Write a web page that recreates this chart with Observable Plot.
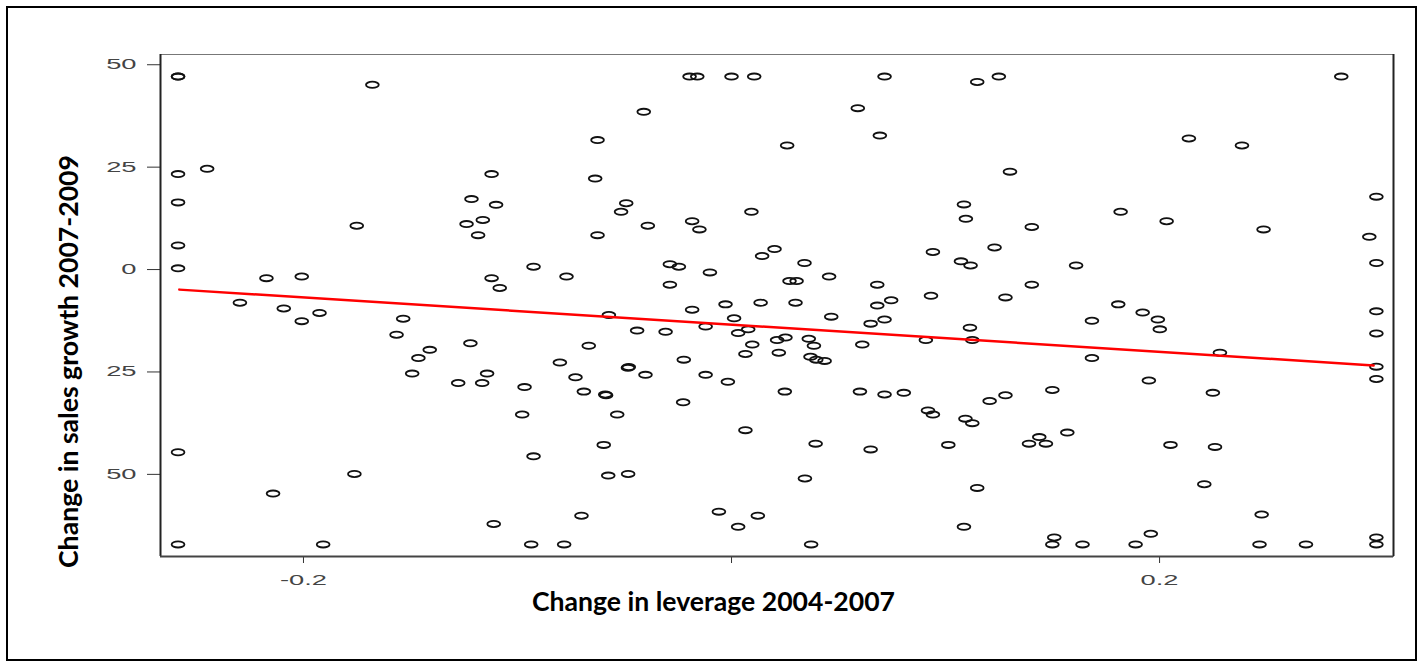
<!DOCTYPE html>
<html><head><meta charset="utf-8">
<script src="https://cdn.jsdelivr.net/npm/d3@7"></script>
<script src="https://cdn.jsdelivr.net/npm/@observablehq/plot@0.6"></script>
<style>
html,body{margin:0;padding:0;background:#fff;width:1421px;height:667px;overflow:hidden;position:relative}
#chart{position:absolute;left:0;top:0}
#border{position:absolute;left:6px;top:6px;width:1411px;height:655px;border:2px solid #000;box-sizing:border-box;pointer-events:none}
</style></head><body>
<div id="chart"></div><div id="border"></div>
<script>
// Change in leverage 2004-2007 (x) and change in sales growth 2007-2009 (y)
const leverage = [
  -0.2586,-0.2586,-0.1678,-0.2586,-0.2450,-0.2586,-0.2586,-0.2586,-0.1751,-0.1238,
  -0.1215,-0.2173,-0.2008,-0.2297,-0.2092,-0.2008,-0.1925,-0.1534,-0.1565,-0.1410,
  -0.1463,-0.1492,-0.1277,-0.1220,-0.2586,-0.1762,-0.2142,-0.2586,-0.1908,
  -0.0196,-0.0160,0.0000,0.0106,-0.0410,-0.0626,-0.1121,-0.0637,-0.1100,-0.0492,
  -0.0516,0.0093,-0.1162,-0.1184,-0.0391,-0.0184,-0.0150,-0.0626,0.0143,-0.0925,
  -0.0771,-0.1121,-0.1083,-0.0288,-0.0246,-0.0101,-0.0288,-0.0028,0.0136,-0.0184,
  -0.0573,0.0012,-0.0121,-0.0441,-0.0308,0.0031,0.0078,-0.0667,0.0097,0.0065,
  -0.0802,-0.0484,-0.0480,-0.0223,-0.1142,-0.1165,-0.0729,-0.0402,-0.0121,-0.0017,
  -0.0967,-0.0690,-0.0586,-0.0590,-0.0226,-0.0978,-0.0534,0.0065,-0.0597,-0.0925,
  -0.0576,-0.0483,-0.0701,-0.1111,-0.0059,0.0031,0.0123,-0.0936,-0.0782,
  0.0715,0.1148,0.1249,0.0590,0.0693,0.0260,0.1301,0.1086,0.1095,0.1403,
  0.0201,0.0941,0.1229,0.0341,0.1072,0.1117,0.1610,0.0271,0.0304,0.0456,
  0.0681,0.1403,0.0299,0.0681,0.0746,0.0932,0.1280,0.0466,0.0650,0.0715,
  0.1114,0.0908,0.1125,0.0213,0.0252,0.0361,0.0385,0.0221,0.0369,0.0396,
  0.0435,0.0611,0.0249,0.0600,0.0715,0.0805,0.0918,0.0941,0.1093,0.1125,
  0.1206,0.1280,0.1499,0.0393,0.0650,0.1013,0.1390,0.1438,0.1469,0.1569,
  0.0343,0.1148,0.1086,0.0372,0.1499,0.1508,0.1640,
  0.2849,0.2137,0.2385,0.3013,0.1818,0.2033,0.2486,0.2980,0.3013,0.1807,
  0.1921,0.1992,0.2001,0.1684,0.3013,0.3013,0.2282,0.3013,0.3013,0.1684,
  0.1950,0.2249,0.2051,0.2259,0.2209,0.2477,0.1959,0.1888,0.2467,0.2684,
  0.3013,0.3013
];
const salesGrowth = [
  47.1,47.1,45.1,23.3,24.6,16.4,5.9,0.3,10.7,11.1,
  17.2,-2.1,-1.7,-8.1,-9.5,-12.6,-10.6,-12.0,-15.9,-19.6,
  -21.6,-25.4,-27.7,-18.0,-44.6,-49.9,-54.7,-67.1,-67.1,
  47.1,47.1,47.1,47.1,38.5,31.6,23.3,22.2,15.8,16.2,
  14.1,14.1,12.1,8.4,10.7,11.8,9.8,8.4,3.3,0.7,
  -1.7,-2.1,-4.5,1.3,0.7,-0.7,-3.7,-8.5,-8.1,-9.8,
  -11.1,-11.9,-13.9,-14.9,-15.2,-15.5,-14.6,-18.6,-18.3,-20.6,
  -22.7,-24.0,-23.8,-22.0,-25.4,-27.7,-26.3,-25.7,-25.7,-27.4,
  -28.7,-29.8,-30.7,-30.5,-32.4,-35.4,-35.4,-39.2,-42.8,-45.6,
  -50.3,-49.9,-60.1,-62.1,-59.1,-62.8,-60.1,-67.1,-67.1,
  47.1,45.8,47.1,39.4,32.7,30.3,23.9,15.9,12.4,10.4,
  5.0,4.3,5.4,1.6,2.0,1.0,1.0,-2.8,-2.8,-1.7,
  -3.7,-3.7,-8.1,-8.8,-7.5,-6.4,-6.8,-11.5,-13.2,-12.2,
  -14.2,-17.2,-17.2,-17.2,-16.6,-16.9,-18.6,-20.3,-21.3,-22.0,
  -22.3,-18.3,-29.8,-29.8,-30.5,-30.1,-34.4,-35.4,-36.4,-37.5,
  -32.1,-30.7,-29.4,-42.5,-43.9,-42.8,-42.5,-40.9,-42.5,-39.8,
  -51.0,-53.3,-62.8,-67.1,-67.1,-65.4,-67.1,
  47.1,32.0,30.3,17.8,14.1,11.8,9.8,8.0,1.6,-8.5,
  -10.5,-12.2,-14.6,-12.5,-10.2,-15.6,-20.3,-23.7,-26.7,-21.6,
  -27.1,-30.1,-42.8,-43.3,-52.4,-59.8,-64.5,-67.1,-67.1,-67.1,
  -65.4,-67.1
];
// fitted regression line end points
const fitX = [-0.258, 0.300];
const fitY = [-4.9, -23.4];
// axes
const xDomain = [-0.2668, 0.3093];
const yDomain = [-70.05, 52.5];
const xTicks = [-0.2, 0, 0.2];
const yTicks = [50, 25, 0, -25, -50];
const xTitle = "Change in leverage 2004-2007";
const yTitle = "Change in sales growth 2007-2009";

const points = leverage.map((x, i) => ({x, y: salesGrowth[i]}));
const fit = fitX.map((x, i) => ({x, y: fitY[i]}));

// flattened circle marker (the source image is horizontally stretched)
const ellipse = {
  draw(ctx) {
    const a = 6.4, b = 3.1, k = 0.5523;
    ctx.moveTo(a, 0);
    ctx.bezierCurveTo(a, b * k, a * k, b, 0, b);
    ctx.bezierCurveTo(-a * k, b, -a, b * k, -a, 0);
    ctx.bezierCurveTo(-a, -b * k, -a * k, -b, 0, -b);
    ctx.bezierCurveTo(a * k, -b, a, -b * k, a, 0);
    ctx.closePath();
  }
};

const chart = Plot.plot({
  width: 1421, height: 667,
  marginLeft: 160, marginRight: 28, marginTop: 54, marginBottom: 111,
  style: {background: "transparent", fontFamily: "'Liberation Sans', Arial, sans-serif", fontSize: "14px", color: "#333"},
  x: {domain: xDomain, ticks: xTicks, tickSize: 7, tickPadding: 12, tickFormat: d => d === 0 ? "" : String(d), label: null},
  y: {domain: yDomain, ticks: yTicks, tickSize: 13, tickPadding: 11, tickFormat: d => String(Math.abs(d)), label: null},
  marks: [
    Plot.frame({stroke: "#777", strokeWidth: 1}),
    Plot.ruleX([xDomain[0]], {stroke: "#222", strokeWidth: 2}),
    Plot.ruleX([xDomain[1]], {stroke: "#222", strokeWidth: 2}),
    Plot.ruleY([yDomain[0]], {stroke: "#444", strokeWidth: 2}),
    Plot.dot(points, {x: "x", y: "y", symbol: ellipse, fill: "none", stroke: "#111", strokeWidth: 1.8}),
    Plot.line(fit, {x: "x", y: "y", stroke: "#ff0000", strokeWidth: 2.5})
  ]
});
document.getElementById("chart").appendChild(chart);

const svgEl = chart.tagName.toLowerCase() === "svg" ? chart : chart.querySelector("svg");
const svg = d3.select(svgEl);
// stretch tick labels horizontally like the source picture
svg.selectAll('[aria-label^="x-axis"] text, [aria-label^="y-axis"] text').each(function () {
  const t = this.getAttribute("transform") || "";
  const x = +this.getAttribute("x") || 0;
  const y = +this.getAttribute("y") || 0;
  this.setAttribute("transform", `${t} translate(${x},${y}) scale(1.95,1) translate(${-x},${-y})`);
  this.setAttribute("fill", "#444");
});

const titleFont = "Lato, 'Open Sans', sans-serif";
svg.append("text")
  .attr("x", 713.5).attr("y", 611)
  .attr("text-anchor", "middle")
  .attr("font-family", titleFont).attr("font-weight", 700).attr("font-size", 27)
  .attr("fill", "#000")
  .attr("textLength", 363).attr("lengthAdjust", "spacingAndGlyphs")
  .text(xTitle);
svg.append("text")
  .attr("transform", "translate(78,361.5) rotate(-90)")
  .attr("text-anchor", "middle")
  .attr("font-family", titleFont).attr("font-weight", 700).attr("font-size", 27)
  .attr("fill", "#000")
  .attr("textLength", 413).attr("lengthAdjust", "spacingAndGlyphs")
  .text(yTitle);
</script></body></html>
